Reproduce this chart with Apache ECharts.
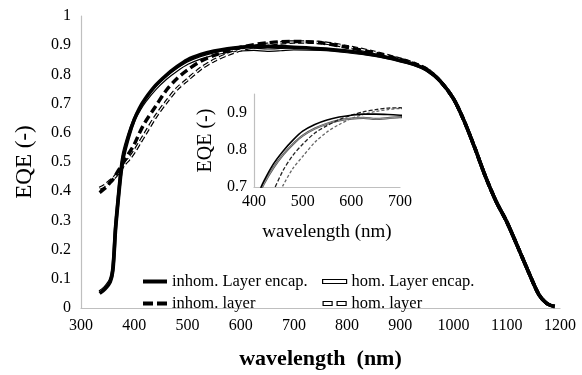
<!DOCTYPE html>
<html><head><meta charset="utf-8">
<script src="https://cdn.jsdelivr.net/npm/echarts@6/dist/echarts.min.js"></script>
<style>html,body{margin:0;padding:0;background:#fff}#c{width:582px;height:375px}</style>
</head><body><div id="c"></div>
<script>
const wavelength = [335,345,355,360,365,370,375,380,390,400,410,420,440,460,480,500,525,550,575,600,625,650,675,700,750,800,850,900,925,950,975,1000,1020,1040,1060,1080,1100,1120,1140,1160,1175,1190];
const inhomEncap = [.05,.065,.09,.13,.27,.37,.46,.52,.59,.645,.685,.715,.762,.797,.826,.85,.868,.88,.888,.893,.896,.896,.895,.893,.888,.880,.867,.848,.835,.815,.777,.716,.64,.548,.45,.365,.295,.212,.127,.047,.016,.005];
const homEncap = [.055,.07,.095,.14,.28,.38,.47,.53,.595,.645,.68,.708,.752,.787,.815,.838,.857,.870,.879,.884,.886,.883,.885,.888,.886,.878,.866,.847,.834,.814,.777,.716,.64,.548,.45,.365,.295,.212,.127,.047,.016,.005];
const inhomLayer = [.395,.41,.43,.44,.455,.47,.485,.5,.53,.56,.6,.635,.69,.745,.785,.815,.845,.865,.881,.893,.902,.908,.912,.913,.908,.893,.874,.851,.837,.817,.777,.716,.64,.548,.45,.365,.295,.212,.127,.047,.016,.005];
const homLayer = [.41,.42,.435,.443,.452,.463,.475,.49,.51,.535,.565,.595,.655,.705,.75,.782,.82,.848,.868,.884,.895,.903,.908,.911,.909,.895,.876,.852,.838,.818,.777,.716,.64,.548,.45,.365,.295,.212,.127,.047,.016,.005];
const names = ['inhom. Layer encap.','hom. Layer encap.','inhom. layer','hom. layer'];
const mainYTicks = ['0','0.1','0.2','0.3','0.4','0.5','0.6','0.7','0.8','0.9','1'];

const pairs = arr => wavelength.map((w,i)=>[w,arr[i]]);
const F = 'Liberation Serif';
const axisGray = '#bfbfbf';

function line(name, arr, xi, style, extra){
  return Object.assign({type:'line', name, data:pairs(arr), xAxisIndex:xi, yAxisIndex:xi,
    showSymbol:false, symbol:'none', smooth:0.3, lineStyle:style, silent:true, animation:false}, extra||{});
}

const series = [
  line(names[1], homEncap, 0, {color:'#000', width:3.5}, {itemStyle:{color:'#000'}}),
  line('_c1', homEncap, 0, {color:'#fff', width:1.1}),
  line(names[3], homLayer, 0, {color:'#000', width:3.6, type:[6,3]}, {itemStyle:{color:'#000'}}),
  line('_c3', homLayer, 0, {color:'#fff', width:1.2, type:[6,3]}),
  line(names[2], inhomLayer, 0, {color:'#000', width:3.5, type:[8,4]}, {itemStyle:{color:'#000'}}),
  line(names[0], inhomEncap, 0, {color:'#000', width:3.6}, {itemStyle:{color:'#000'}}),
  // inset
  line('_i1', homEncap, 1, {color:'#555', width:2.2}),
  line('_i1c', homEncap, 1, {color:'#aaa', width:0.8}),
  line('_i3', homLayer, 1, {color:'#666', width:1.3, type:[3,2]}),
  line('_i2', inhomLayer, 1, {color:'#222', width:1.3, type:[4,2]}),
  line('_i0', inhomEncap, 1, {color:'#000', width:1.6})
];

const chart = echarts.init(document.getElementById('c'), null, {renderer:'canvas'});
chart.setOption({
  animation:false,
  textStyle:{fontFamily:F},
  grid:[
    {left:81, right:22, top:16, bottom:60},
    {left:254, right:182, top:94, bottom:188}
  ],
  xAxis:[
    {type:'value', gridIndex:0, min:300, max:1200, interval:100,
     name:'wavelength  (nm)', nameLocation:'middle', nameGap:40,
     nameTextStyle:{fontFamily:F, fontSize:22, fontWeight:'bold', color:'#000'},
     axisLine:{lineStyle:{color:axisGray, width:1.2}}, axisTick:{show:false}, splitLine:{show:false},
     axisLabel:{fontFamily:F, fontSize:16, color:'#000', margin:10, formatter:(v)=>String(v)}},
    {type:'value', gridIndex:1, min:400, max:700, interval:100,
     name:'wavelength (nm)', nameLocation:'middle', nameGap:36,
     nameTextStyle:{fontFamily:F, fontSize:19, color:'#000'},
     axisLine:{lineStyle:{color:axisGray, width:1.2}}, axisTick:{show:false}, splitLine:{show:false},
     axisLabel:{fontFamily:F, fontSize:16, color:'#000', margin:7, formatter:(v)=>String(v)}}
  ],
  yAxis:[
    {type:'value', gridIndex:0, min:0, max:1, interval:0.1,
     name:'EQE (-)', nameLocation:'middle', nameGap:45,
     nameTextStyle:{fontFamily:F, fontSize:23, color:'#000'},
     axisLine:{show:true, lineStyle:{color:axisGray, width:1.2}}, axisTick:{show:false}, splitLine:{show:false},
     axisLabel:{fontFamily:F, fontSize:16, color:'#000', margin:10,
       formatter:(v)=>mainYTicks[Math.round(v*10)]}},
    {type:'value', gridIndex:1, min:0.7, max:0.95, interval:0.1,
     name:'EQE (-)', nameLocation:'middle', nameGap:38,
     nameTextStyle:{fontFamily:F, fontSize:20, color:'#000'},
     axisLine:{show:true, lineStyle:{color:axisGray, width:1.2}}, axisTick:{show:false}, splitLine:{show:false},
     axisLabel:{fontFamily:F, fontSize:16, color:'#000', margin:7, showMaxLabel:false,
       formatter:(v)=>v.toFixed(1)}}
  ],
  legend:[
    {orient:'vertical', left:143, top:273, padding:0, itemWidth:24, itemHeight:4, itemGap:5, itemTextGap:2,
     textStyle:{fontFamily:F, fontSize:16.5, color:'#000', lineHeight:16},
     selectedMode:false,
     data:[
       {name:names[0], icon:'rect', itemStyle:{color:'#000', borderWidth:0}},
       {name:names[2], icon:'path://M0,0H10V4H0Z M14,0H24V4H14Z', itemStyle:{color:'#000', borderWidth:0}}
     ]},
    {orient:'vertical', left:322, top:273, padding:0, itemWidth:24, itemHeight:4, itemGap:5, itemTextGap:2,
     textStyle:{fontFamily:F, fontSize:16.5, color:'#000', lineHeight:16},
     selectedMode:false,
     data:[
       {name:names[1], icon:'rect', itemStyle:{color:'#fff', borderColor:'#000', borderWidth:1.2}},
       {name:names[3], icon:'path://M0,0H9V4H0Z M14,0H23V4H14Z', itemStyle:{color:'#fff', borderColor:'#000', borderWidth:1.2}}
     ]}
  ],
  series
});
</script></body></html>
